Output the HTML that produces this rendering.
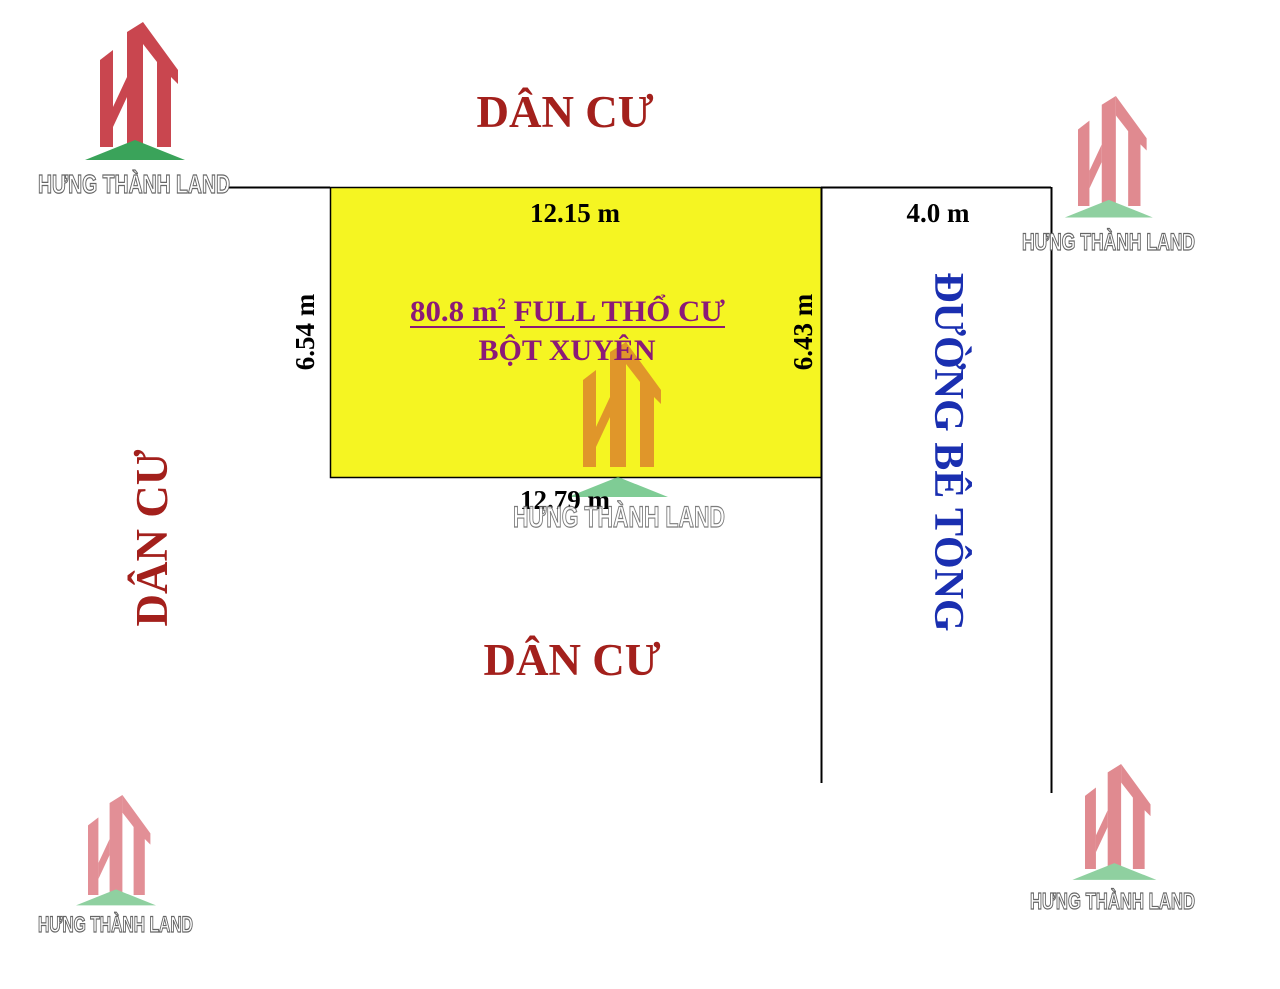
<!DOCTYPE html>
<html><head><meta charset="utf-8"><style>
html,body{margin:0;padding:0;background:#fff;}
svg{display:block;}
.lt{font-family:"Liberation Sans",sans-serif;font-weight:bold;fill:#fff;stroke:#666;stroke-width:1.2;}
.s{font-family:"Liberation Serif",serif;font-weight:bold;}
</style></head><body>
<svg width="1280" height="989" viewBox="0 0 1280 989" xmlns="http://www.w3.org/2000/svg">
<defs>
<g id="ht">
<polygon points="0,38 13,28 13,125 0,125"/>
<polygon points="13,85 27,55 27,75 13,105"/>
<polygon points="27,10 43,0 43,125 27,125"/>
<polygon points="43,0 78,48 78,62 71,55 71,125 57,125 57,40 43,22"/>
</g>
</defs>
<line x1="225" y1="187.5" x2="330" y2="187.5" stroke="#000" stroke-width="2"/>
<rect x="330.5" y="187.5" width="491" height="290" fill="#f5f522" stroke="#000" stroke-width="1.5"/>
<line x1="821.5" y1="187" x2="821.5" y2="783" stroke="#000" stroke-width="2"/>
<line x1="821" y1="187.5" x2="1051" y2="187.5" stroke="#000" stroke-width="2"/>
<line x1="1051.5" y1="187" x2="1051.5" y2="793" stroke="#000" stroke-width="2"/>

<g transform="translate(100,22)" fill="#c9464f"><use href="#ht"/><polygon points="-15,138 35,118 85,138" fill="#3aa35a"/></g>
<text class="lt" x="38" y="193" font-size="26" textLength="192" lengthAdjust="spacingAndGlyphs">HƯNG THÀNH LAND</text>

<g transform="translate(1078,96) scale(0.88)" fill="#e08a90"><use href="#ht"/><polygon points="-15,138 35,118 85,138" fill="#8fd0a0"/></g>
<text class="lt" x="1022" y="250" font-size="24" textLength="173" lengthAdjust="spacingAndGlyphs">HƯNG THÀNH LAND</text>

<g transform="translate(583,342)" fill="#e0962a"><use href="#ht"/><polygon points="-15,155 35,135 85,155" fill="#5fbf7a" opacity="0.8"/></g>

<g transform="translate(88,795) scale(0.8)" fill="#e28f96"><use href="#ht"/><polygon points="-15,138 35,118 85,138" fill="#8fd0a0"/></g>
<text class="lt" x="38" y="932" font-size="22" textLength="155" lengthAdjust="spacingAndGlyphs">HƯNG THÀNH LAND</text>

<g transform="translate(1085,764) scale(0.84)" fill="#e08a90"><use href="#ht"/><polygon points="-15,138 35,118 85,138" fill="#8fd0a0"/></g>
<text class="lt" x="1030" y="909" font-size="23" textLength="165" lengthAdjust="spacingAndGlyphs">HƯNG THÀNH LAND</text>

<text class="s" x="565" y="127" font-size="45" fill="#a3201c" text-anchor="middle">DÂN CƯ</text>
<text class="s" x="572" y="675" font-size="45" fill="#a3201c" text-anchor="middle">DÂN CƯ</text>
<text class="s" transform="translate(167,538) rotate(-90)" font-size="45" fill="#a3201c" text-anchor="middle">DÂN CƯ</text>
<text class="s" transform="translate(935,452) rotate(90)" font-size="42" fill="#1a2fb0" text-anchor="middle">ĐƯỜNG BÊ TÔNG</text>

<text class="s" x="575" y="222" font-size="27" fill="#000" text-anchor="middle">12.15 m</text>
<text class="s" x="938" y="222" font-size="27" fill="#000" text-anchor="middle">4.0 m</text>
<text class="s" transform="translate(314,332) rotate(-90)" font-size="27" fill="#000" text-anchor="middle">6.54 m</text>
<text class="s" transform="translate(812,332) rotate(-90)" font-size="27" fill="#000" text-anchor="middle">6.43 m</text>
<text class="s" x="565" y="509" font-size="27" fill="#000" text-anchor="middle">12.79 m</text>

<text class="s" x="410" y="321" font-size="30" fill="#8b1a78" textLength="315" lengthAdjust="spacingAndGlyphs">80.8 m<tspan font-size="16" dy="-12">2</tspan><tspan dy="12"> FULL THỔ CƯ</tspan></text>
<line x1="410" y1="327" x2="505" y2="327" stroke="#8b1a78" stroke-width="2"/>
<line x1="520" y1="327" x2="725" y2="327" stroke="#8b1a78" stroke-width="2"/>
<text class="s" x="567" y="360" font-size="30" fill="#8b1a78" text-anchor="middle">BỘT XUYÊN</text>

<text class="lt" x="513" y="527" font-size="30" textLength="212" lengthAdjust="spacingAndGlyphs" opacity="0.85">HƯNG THÀNH LAND</text>
</svg>
</body></html>
